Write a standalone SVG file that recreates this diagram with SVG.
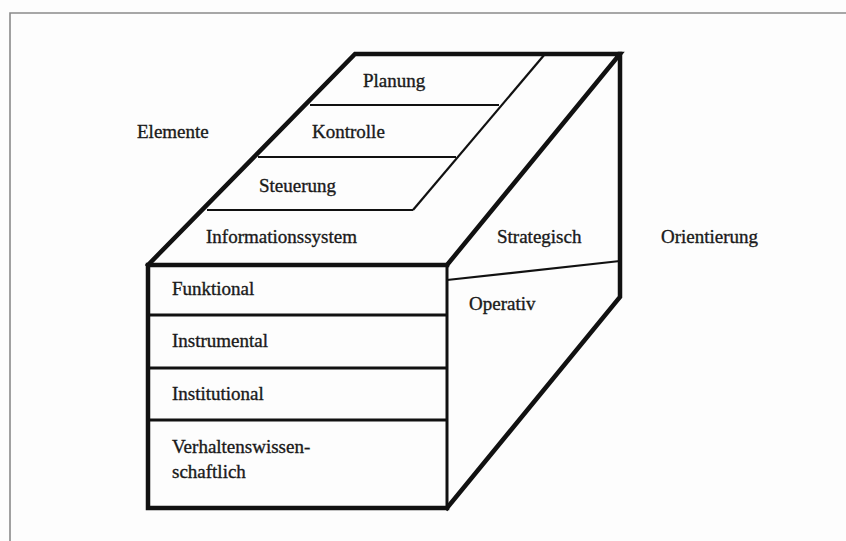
<svg xmlns="http://www.w3.org/2000/svg" width="846" height="541" viewBox="0 0 846 541">
  <style>
    .frame { fill: none; stroke: #8a8a8a; stroke-width: 1.6; }
    .edge { fill: none; stroke: #111; stroke-width: 4.5; stroke-linejoin: miter; stroke-linecap: square; }
    .inner { fill: none; stroke: #111; stroke-width: 2.2; }
    .mid { fill: none; stroke: #111; stroke-width: 3; }
    text { font-family: "Liberation Serif", "Times New Roman", serif; font-size: 19px; fill: #1a1a1a; stroke: #1a1a1a; stroke-width: 0.35; }
  </style>
  <rect width="846" height="541" fill="#fdfdfd"/>
  <!-- page frame -->
  <path class="frame" d="M10,541 V13 H846"/>

  <!-- side labels -->
  <g id="label-elemente"><text x="137" y="138">Elemente</text></g>
  <g id="label-orientierung"><text x="661" y="243">Orientierung</text></g>

  <!-- top face: management elements -->
  <g id="top-face">
    <path class="inner" d="M545,54 L413,210"/>
    <path class="inner" d="M310,105 H499"/>
    <path class="inner" d="M258,157 H456"/>
    <path class="inner" d="M207,210 H413"/>
    <path class="edge" d="M148,265 L355,54 H620 L447,265"/>
  </g>
  <g id="planung"><text x="363" y="87">Planung</text></g>
  <g id="kontrolle"><text x="312" y="138">Kontrolle</text></g>
  <g id="steuerung"><text x="259" y="192">Steuerung</text></g>
  <g id="informationssystem"><text x="206" y="243">Informationssystem</text></g>

  <!-- right face: orientation -->
  <g id="right-face">
    <path class="inner" d="M447,280 L620,261"/>
    <path class="edge" d="M620,54 V297 L447,508"/>
  </g>
  <g id="strategisch"><text x="497" y="243">Strategisch</text></g>
  <g id="operativ"><text x="469" y="310">Operativ</text></g>

  <!-- front face: perspectives -->
  <g id="front-face">
    <path class="mid" d="M148,315 H447 M148,368 H447 M148,420 H447"/>
    <path class="mid" d="M447,265 V508"/>
    <path class="edge" d="M148,265 H447 M148,265 V508 H447"/>
  </g>
  <g id="funktional"><text x="172" y="295">Funktional</text></g>
  <g id="instrumental"><text x="172" y="347">Instrumental</text></g>
  <g id="institutional"><text x="172" y="400">Institutional</text></g>
  <g id="verhaltenswissenschaftlich">
    <text x="172" y="453">Verhaltenswissen-</text>
    <text x="172" y="478">schaftlich</text>
  </g>
</svg>
